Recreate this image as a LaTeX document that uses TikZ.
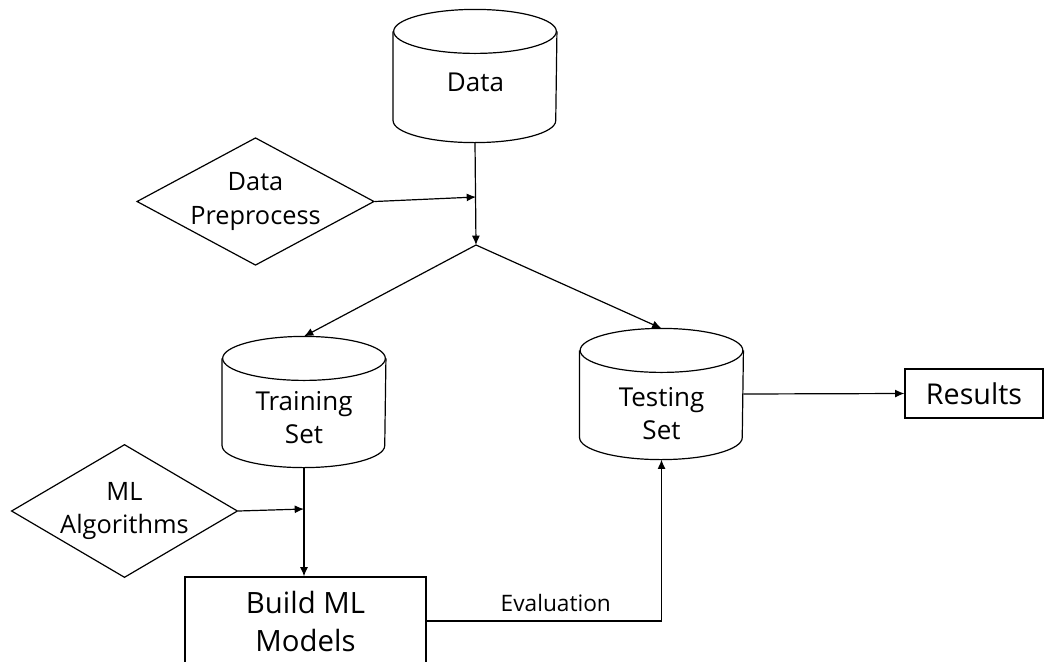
\documentclass[tikz,border=0pt]{standalone}
\usepackage{fontspec}
\setmainfont{Open Sans}
\usetikzlibrary{shapes.geometric,arrows.meta}
\begin{document}
\begin{tikzpicture}[>={Latex[length=7pt,width=6pt]}, x=.75pt, y=-.75pt, line width=.9pt,
    db/.style={rectangle, inner sep=0pt, minimum width=122pt, minimum height=97.5pt},
    dbtext/.style={align=center, inner sep=0pt, font=\fontsize{19.5}{24.75}\selectfont},
    choice/.style={draw, diamond, inner sep=0pt, align=center,
        font=\fontsize{19}{25}\selectfont},
    box/.style={draw, rectangle, align=center}]
\clip (0,0) rectangle (1045,661);

\node[db, minimum height=99pt] (data) at (475,76) {};
\node[dbtext] (data-t) at (475.5,82.5) {Data};
\node[choice, aspect=1.86, minimum width=171.75pt, minimum height=92.25pt] (prep) at (255.5,201.5) {Data\\Preprocess};
\coordinate (join) at (476,197);
\coordinate (split) at (476,245);

\node[db] (train) at (304,402) {};
\node[dbtext] (train-t) at (304,418) {Training\\Set};
\node[db] (test) at (661.5,394) {};
\node[dbtext] (test-t) at (661.5,413.5) {Testing\\Set};
\node[box, minimum width=103.5pt, minimum height=36.75pt, font=\fontsize{21.5}{26}\selectfont] (res) at (974,393.5) {Results};

\node[choice, aspect=1.7, minimum width=168.75pt, minimum height=99pt] (ml) at (124.5,511) {ML\\Algorithms};
\coordinate (mljoin) at (304,509);
\node[box, minimum width=180.75pt, minimum height=66pt, font=\fontsize{22}{28.5}\selectfont] (build) at (305.5,621) {Build ML\\Models};

\foreach \n in {data,train,test}
{
    \draw ([yshift=-16.5pt]\n.north) ellipse [x radius=61pt, y radius=16.5pt];
    \draw ([yshift=-16.5pt]\n.north west) -- ([yshift=16.5pt]\n.south west)
        arc [start angle=180, end angle=360, x radius=61pt, y radius=16.5pt]
        -- ([yshift=-16.5pt]\n.north east);
}

\draw[->] (data.south) -- (split);
\draw[->] (prep.east) -- (join);
\draw[->] (split) -- (train.north);
\draw[->] (split) -- (test.north);
\draw[->] (test.east) -- (res.west);
\draw[->] (ml.east) -- (mljoin);
\draw[->] (train.south) -- (train.south |- build.north);
\draw[->] (build.east) -| node[pos=.275, above=3pt, font=\fontsize{17}{20}\selectfont]{Evaluation} (test.south);
\end{tikzpicture}
\end{document}
